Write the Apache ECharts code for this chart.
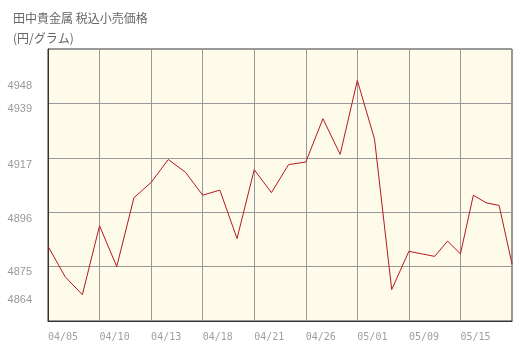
<!DOCTYPE html>
<html>
<head>
<meta charset="utf-8">
<script src="https://cdn.jsdelivr.net/npm/echarts@6/dist/echarts.min.js"></script>
<style>
html,body{margin:0;padding:0;background:#fff;}
#c{width:524px;height:350px;}
</style>
</head>
<body>
<div id="c"></div>
<script>
// Trading days (2023) and retail price values (円/グラム)
var dates = ['04/05','04/06','04/07','04/10','04/11','04/12','04/13','04/14','04/17','04/18',
             '04/19','04/20','04/21','04/24','04/25','04/26','04/27','04/28','05/01','05/02',
             '05/08','05/09','05/10','05/11','05/12','05/15','05/16','05/17','05/18','05/19'];
var prices = [4883,4871,4864,4891,4875,4902,4908,4917,4912,4903,
              4905,4886,4913,4904,4915,4916,4933,4919,4948,4925,
              4866,4881,4880,4879,4885,4880,4903,4900,4899,4876];
// x-axis tick labels (each label gets one equal-width section of the axis)
var tickLabels = ['04/05','04/10','04/13','04/18','04/21','04/26','05/01','05/09','05/15'];
// y-axis labels shown by the original chart
var yLabels = [4864,4875,4896,4917,4939,4948];

// position of each date: section index + fraction within its section
var tickIdx = tickLabels.map(function(t){ return dates.indexOf(t); });
tickIdx.push(dates.length - 1);
var seriesData = dates.map(function(d, i){
  var k = 0;
  while (k < tickIdx.length - 2 && i >= tickIdx[k+1]) k++;
  var pos = k + (i - tickIdx[k]) / (tickIdx[k+1] - tickIdx[k]);
  return [pos, prices[i], d];
});

var chart = echarts.init(document.getElementById('c'), null, {renderer:'canvas'});
chart.setOption({
  animation: false,
  backgroundColor: '#ffffff',
  title: {
    text: '田中貴金属 税込小売価格\n(円/グラム)',
    left: 8, top: 3,
    textStyle: {
      fontFamily: '"Noto Sans CJK JP", sans-serif',
      fontSize: 12, fontWeight: 'normal', color: '#666', lineHeight: 20
    }
  },
  grid: {
    left: 48, right: 12, top: 49, bottom: 29,
    show: true, backgroundColor: '#fffbea', borderColor: '#333', borderWidth: 1
  },
  xAxis: {
    type: 'value', min: 0, max: tickLabels.length, interval: 1,
    axisLine: {show: true, lineStyle: {color: '#333'}},
    axisTick: {show: false},
    splitLine: {show: true, lineStyle: {color: '#999', width: 1}},
    axisLabel: {
      color: '#a0a0a0', fontFamily: '"DejaVu Sans Mono", monospace', fontSize: 10,
      align: 'left', margin: 11,
      formatter: function(v){ return tickLabels[v] !== undefined ? tickLabels[v] : ''; }
    }
  },
  yAxis: {
    type: 'value', min: 4853.6667, max: 4960.3333, interval: 21.33333,
    axisLine: {show: true, lineStyle: {color: '#333'}},
    axisTick: {show: false},
    splitLine: {show: true, lineStyle: {color: '#999', width: 1}},
    axisLabel: {
      customValues: yLabels,
      color: '#999', fontFamily: '"Liberation Sans", Arial, sans-serif', fontSize: 11,
      margin: 16, verticalAlign: 'top',
      formatter: function(v){ return String(Math.round(v)); }
    }
  },
  series: [{
    type: 'line',
    data: seriesData,
    showSymbol: false,
    lineStyle: {color: '#b81820', width: 1},
    itemStyle: {color: '#b81820'}
  }]
});
</script>
</body>
</html>
